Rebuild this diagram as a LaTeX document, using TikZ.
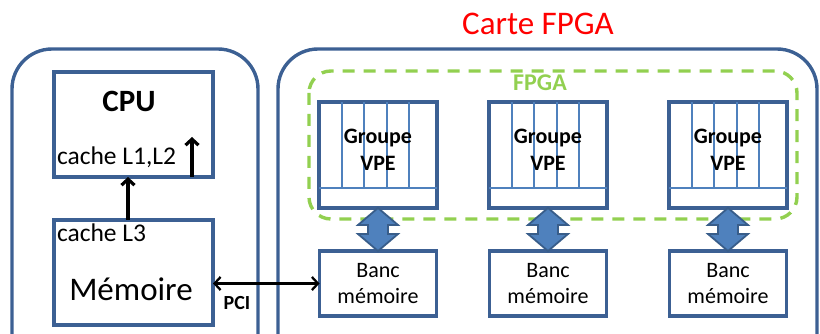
\documentclass[tikz,border=0pt]{standalone}
\usepackage{fontspec}
\setmainfont{Carlito}
\usetikzlibrary{arrows.meta,calc}
\definecolor{boxblue}{HTML}{3C6093}
\definecolor{lightblue}{HTML}{4F81BD}
\definecolor{arrowedge}{HTML}{385D8A}
\definecolor{fgreen}{HTML}{92D050}
\begin{document}
\begin{tikzpicture}[x=1pt,y=-1pt,
  outerbox/.style={draw=boxblue,line width=3.4pt,rounded corners=40pt},
  box/.style={draw=boxblue,line width=3.4pt,fill=white,inner sep=0pt,outer sep=0pt,rectangle},
  vpebox/.style={box,minimum width=118pt,minimum height=106pt},
  bancbox/.style={box,minimum width=117pt,minimum height=65pt,align=center,font=\fontsize{22}{26}\selectfont},
  vpeline/.style={draw=lightblue,line width=1.6pt},
  fpgazone/.style={draw=fgreen,line width=3.4pt,dash pattern=on 12pt off 9pt,rounded corners=22pt},
  blockarrow/.style={fill=lightblue,draw=arrowedge,line width=1.8pt,line join=miter},
  arr/.style={line width=3.2pt,-{Straight Barb[length=6pt,width=13pt]}},
  pci/.style={line width=2.3pt,{Straight Barb[length=6pt,width=13pt]}-{Straight Barb[length=6pt,width=13pt]}},
  txt/.style={inner sep=0pt,outer sep=0pt}
]
\useasboundingbox (0,0) rectangle (820,334);
\clip (0,0) rectangle (820,334);

% outer boxes
\draw[outerbox] (12,380) -- (12,49) -- (258,49) -- (258,380);
\draw[outerbox] (278,380) -- (278,49) -- (817,49) -- (817,380);

% title
\node[txt,text=red,font=\fontsize{33}{37}\selectfont] (title) at (538,24) {Carte FPGA};

% FPGA zone
\draw[fpgazone] (309,71) rectangle (797,219);
\node[txt,text=fgreen,font=\fontsize{24}{28}\selectfont\bfseries] (fpgalbl) at (540,83) {FPGA};

% CPU and memory
\node[box,minimum width=159pt,minimum height=105pt] (cpu) at (133.5,124.5) {};
\node[box,minimum width=159pt,minimum height=105pt] (mem) at (133.5,272.5) {};
\node[txt,font=\fontsize{31}{35}\selectfont\bfseries] (cputxt) at (129,101) {CPU};
\node[txt,anchor=west,font=\fontsize{25.5}{30}\selectfont] (l12) at (57,157) {cache L1,L2};
\node[txt,anchor=west,font=\fontsize{25.5}{30}\selectfont] (l3) at (57,233) {cache L3};
\node[txt,font=\fontsize{33}{37}\selectfont] (memtxt) at (131,289) {Mémoire};

\coordinate (ina) at (192,177);
\coordinate (inb) at (192,137);
\draw[arr] (ina) -- (inb);
\draw[arr] ([xshift=-5.5pt]mem.north) -- ([xshift=-5.5pt]cpu.south);

% VPE groups and memory banks
\foreach \i/\cx in {1/378,2/548,3/728}{
  \node[vpebox] (vpe\i) at (\cx,155) {};
  \draw[vpeline] ($(vpe\i.south west)+(0,-20)$) -- ($(vpe\i.south east)+(0,-20)$);
  \foreach \dx in {23,45,68,90}{
    \draw[vpeline] ($(vpe\i.north west)+(\dx,0)$) -- ($(vpe\i.south west)+(\dx,-20)$);
  }
  \node[txt,align=center,font=\fontsize{22}{27}\selectfont\bfseries] (vpetxt\i) at (\cx,149.5) {Groupe\\VPE};
  \node[bancbox] (banc\i) at (\cx,283.5) {Banc\\mémoire};
}

% block double arrows
\foreach \i in {1,2,3}{
  \draw[blockarrow] (vpe\i.south) -- ++(20,17) -- ++(-10,0)
    -- ($(banc\i.north)+(10,-17)$) -- ++(10,0) -- (banc\i.north)
    -- ++(-20,-17) -- ++(10,0) -- ($(vpe\i.south)+(-10,17)$) -- ++(-10,0) -- cycle;
}

% PCI
\draw[pci] (mem.east |- banc1.west) -- (banc1.west);
\node[txt,font=\fontsize{20}{24}\selectfont\bfseries] (pcitxt) at (237,303) {PCI};
\end{tikzpicture}
\end{document}
